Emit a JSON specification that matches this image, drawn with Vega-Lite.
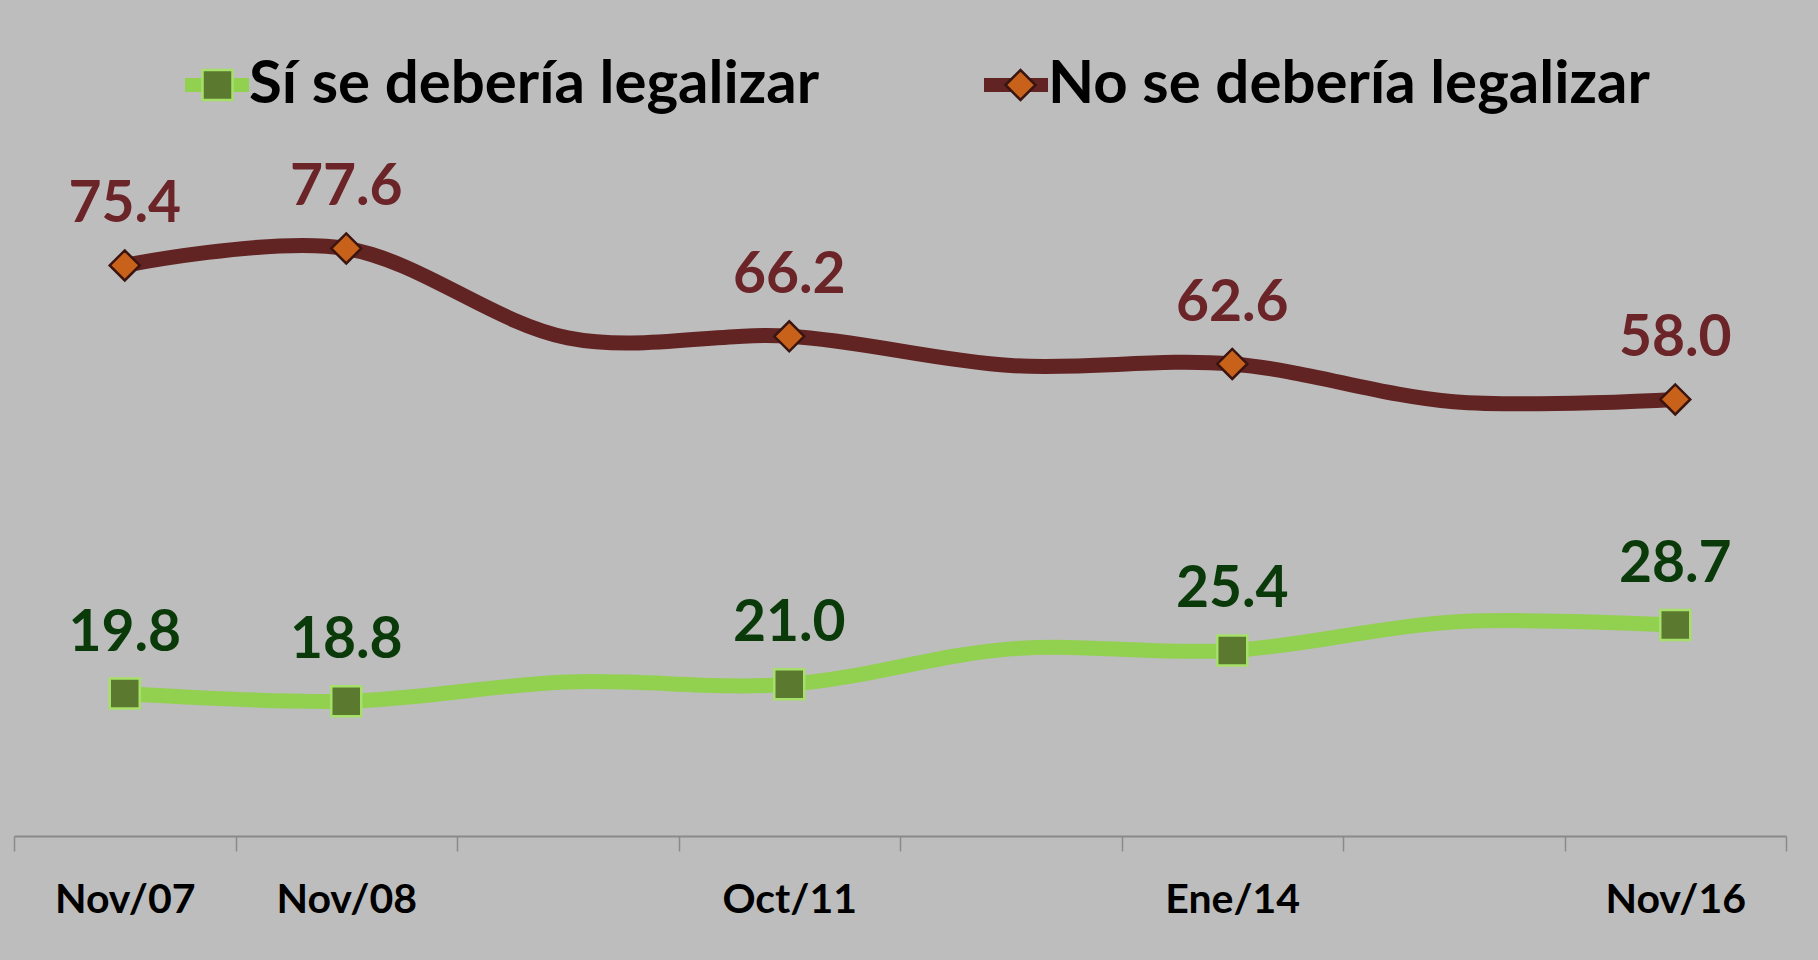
{
  "$schema": "https://vega.github.io/schema/vega-lite/v6.json",
  "width": 1772,
  "height": 760,
  "autosize": {"type": "none"},
  "padding": {"left": 14, "top": 76, "right": 32, "bottom": 124},
  "background": "#BDBDBD",
  "config": {"view": {"stroke": null}, "font": "Lato"},
  "data": {
    "values": [
      {"periodo": "Nov/07", "serie": "Sí se debería legalizar", "valor": 19.8},
      {"periodo": "Nov/07", "serie": "No se debería legalizar", "valor": 75.4},
      {"periodo": "Nov/08", "serie": "Sí se debería legalizar", "valor": 18.8},
      {"periodo": "Nov/08", "serie": "No se debería legalizar", "valor": 77.6},
      {"periodo": "oculto1", "serie": "Sí se debería legalizar", "valor": 21.3},
      {"periodo": "oculto1", "serie": "No se debería legalizar", "valor": 66.0},
      {"periodo": "Oct/11", "serie": "Sí se debería legalizar", "valor": 21.0},
      {"periodo": "Oct/11", "serie": "No se debería legalizar", "valor": 66.2},
      {"periodo": "oculto2", "serie": "Sí se debería legalizar", "valor": 25.6},
      {"periodo": "oculto2", "serie": "No se debería legalizar", "valor": 62.4},
      {"periodo": "Ene/14", "serie": "Sí se debería legalizar", "valor": 25.4},
      {"periodo": "Ene/14", "serie": "No se debería legalizar", "valor": 62.6},
      {"periodo": "oculto3", "serie": "Sí se debería legalizar", "valor": 29.1},
      {"periodo": "oculto3", "serie": "No se debería legalizar", "valor": 57.7},
      {"periodo": "Nov/16", "serie": "Sí se debería legalizar", "valor": 28.7},
      {"periodo": "Nov/16", "serie": "No se debería legalizar", "valor": 58.0}
    ]
  },
  "encoding": {
    "x": {
      "field": "periodo",
      "type": "ordinal",
      "sort": null,
      "scale": {"paddingInner": 0, "paddingOuter": 0},
      "axis": {
        "title": null,
        "grid": false,
        "domainColor": "#8A8A8A",
        "domainWidth": 2,
        "tickColor": "#8A8A8A",
        "tickWidth": 1.5,
        "tickSize": 15,
        "tickBand": "extent",
        "labelAngle": 0,
        "labelFont": "Lato",
        "labelFontSize": 41,
        "labelFontWeight": "bold",
        "labelColor": "#000000",
        "labelBaseline": "alphabetic",
        "labelPadding": 61,
        "labelLimit": 0,
        "labelExpr": "indexof(datum.label, '/') >= 0 ? datum.label : ''"
      }
    },
    "y": {
      "field": "valor",
      "type": "quantitative",
      "scale": {"domain": [1.3, 100], "nice": false, "zero": false},
      "axis": null
    }
  },
  "layer": [
    {
      "mark": {"type": "line", "interpolate": "cardinal", "strokeWidth": 15},
      "encoding": {
        "color": {
          "field": "serie",
          "type": "nominal",
          "sort": "descending",
          "scale": {"range": ["#92D050", "#622323"]},
          "legend": {
            "orient": "none",
            "legendX": 164,
            "legendY": -30,
            "direction": "horizontal",
            "title": null,
            "padding": 0,
            "symbolType": "stroke",
            "symbolSize": 4096,
            "symbolStrokeWidth": 14,
            "labelFont": "Lato",
            "labelFontSize": 60,
            "labelFontWeight": "bold",
            "labelColor": "#000000",
            "labelLimit": 0,
            "labelOffset": -7,
            "columnPadding": 136
          }
        }
      }
    },
    {
      "transform": [
        {"filter": "indexof(datum.periodo, '/') >= 0"},
        {"calculate": "datum.serie", "as": "serie_marca"}
      ],
      "mark": {"type": "point", "filled": true, "size": 900, "strokeWidth": 2.5, "opacity": 1},
      "encoding": {
        "fill": {
          "field": "serie_marca",
          "type": "nominal",
          "sort": "descending",
          "scale": {"range": ["#5B7A30", "#C8621A"]},
          "legend": {
            "orient": "none",
            "legendX": 164,
            "legendY": -21,
            "direction": "horizontal",
            "title": null,
            "padding": 0,
            "symbolSize": 900,
            "symbolStrokeWidth": 2.5,
            "symbolOffset": 9.5,
            "labelFont": "Lato",
            "labelFontSize": 60,
            "labelFontWeight": "bold",
            "labelExpr": "''",
            "labelLimit": 0,
            "labelOffset": 12,
            "columnPadding": 721
          }
        },
        "shape": {
          "field": "serie_marca",
          "type": "nominal",
          "sort": "descending",
          "scale": {"range": ["square", "diamond"]}
        },
        "stroke": {
          "field": "serie_marca",
          "type": "nominal",
          "sort": "descending",
          "scale": {"range": ["#A6E06A", "#3A1510"]}
        }
      }
    },
    {
      "transform": [{"filter": "indexof(datum.periodo, '/') >= 0"}],
      "mark": {"type": "text", "font": "Lato", "fontSize": 57, "fontWeight": "bold", "dy": -43, "baseline": "alphabetic", "align": "center"},
      "encoding": {
        "text": {"field": "valor", "type": "quantitative", "format": ".1f"},
        "color": {
          "condition": {"test": "datum.serie === 'Sí se debería legalizar'", "value": "#0A3A0A"},
          "value": "#6B2428"
        }
      }
    }
  ]
}
